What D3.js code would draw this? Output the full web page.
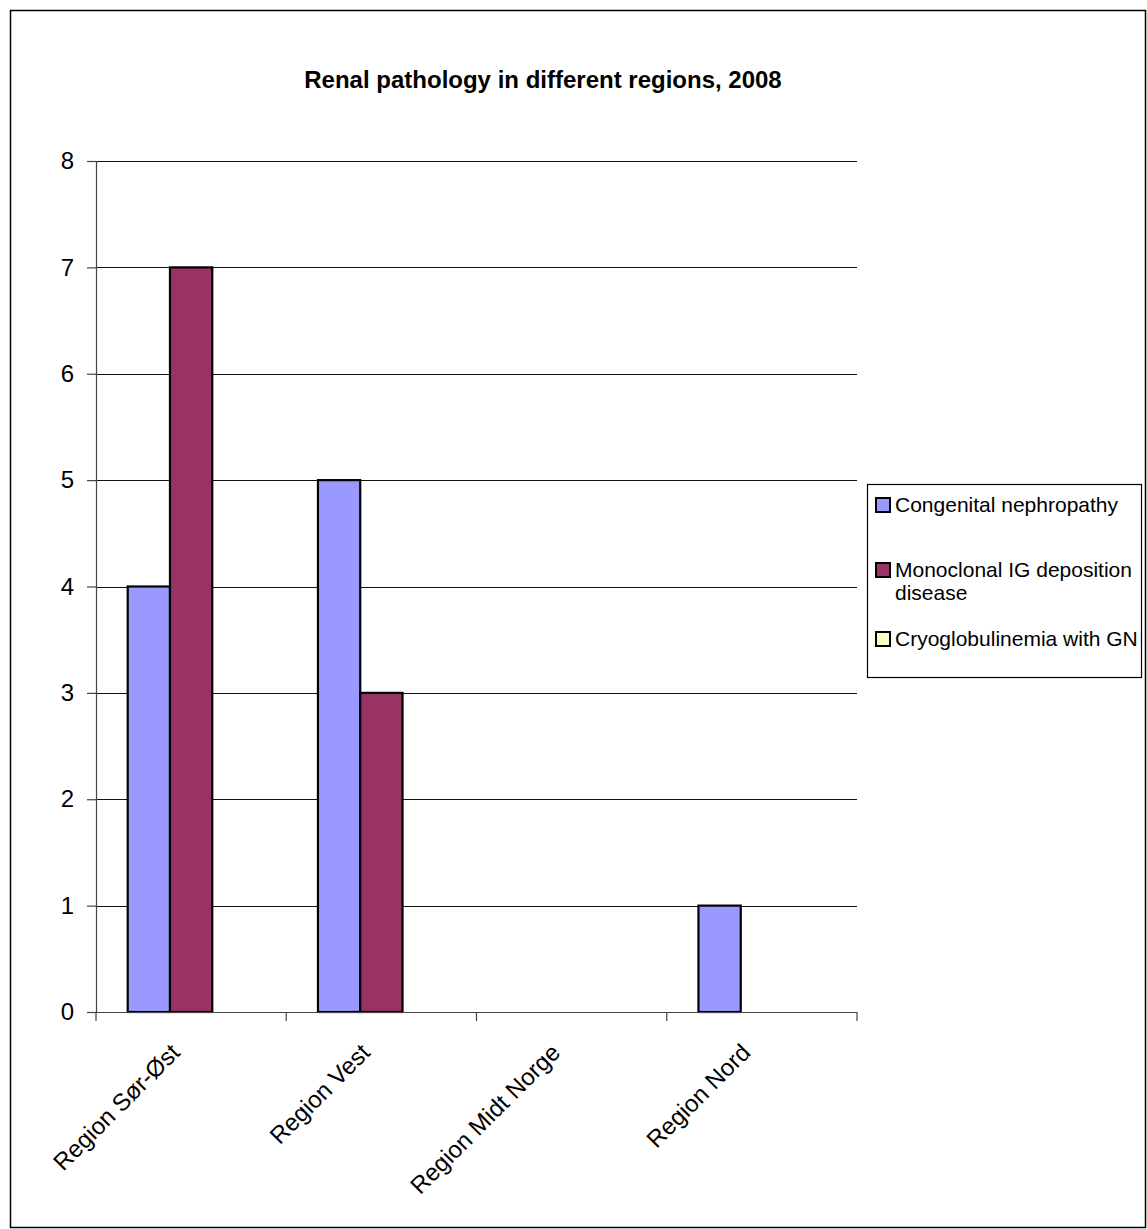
<!DOCTYPE html>
<html>
<head>
<meta charset="utf-8">
<script src="https://cdn.jsdelivr.net/npm/d3@7"></script>
<style>
  body { margin: 0; background: #fff; }
  text { font-family: Arial, "Liberation Sans", sans-serif; }
</style>
</head>
<body>
<div id="plot-container"></div>
<script>
// chart data
var categories = ["Region Sør-Øst", "Region Vest", "Region Midt Norge", "Region Nord"];
var seriesNames = ["Congenital nephropathy", "Monoclonal IG deposition disease", "Cryoglobulinemia with GN"];
var congenital = [4, 5, 0, 1];
var monoclonal = [7, 3, 0, 0];
var cryo = [0, 0, 0, 0];
var yTicks = [0, 1, 2, 3, 4, 5, 6, 7, 8];

var colors = ["#9999FF", "#993366", "#FFFFCC"];
var seriesValues = [congenital, monoclonal, cryo];

// plot parameters
var width = 1147, height = 1229;
var plotLeft = 96, plotRight = 857, plotTop = 161, plotBottom = 1012;

var svg = d3.select("#plot-container")
            .append("svg")
            .attr("width", width)
            .attr("height", height);

// outer frame
svg.append("rect")
   .attr("x", 10.5).attr("y", 10.5)
   .attr("width", 1135).attr("height", 1217)
   .attr("fill", "none").attr("stroke", "#000").attr("stroke-width", 1.5);

svg.append("text")
   .attr("x", 543).attr("y", 88)
   .attr("text-anchor", "middle")
   .attr("font-size", 24).attr("font-weight", "bold")
   .text("Renal pathology in different regions, 2008");

var yScale = d3.scaleLinear().domain([0, 8]).range([plotBottom, plotTop]);
var xScale = d3.scaleBand().domain(categories).range([plotLeft, plotRight]).paddingInner(0).paddingOuter(0);
var xSub = d3.scaleBand().domain(d3.range(seriesNames.length))
             .range([0, xScale.bandwidth()]).paddingInner(0).paddingOuter(0.75);

// gridlines
svg.append("g")
   .selectAll("line")
   .data(yTicks.filter(function(d){ return d > 0; }))
   .enter()
   .append("line")
   .attr("x1", plotLeft).attr("x2", plotRight)
   .attr("y1", function(d){ return Math.round(yScale(d)) + 0.5; })
   .attr("y2", function(d){ return Math.round(yScale(d)) + 0.5; })
   .attr("stroke", "#111").attr("stroke-width", 1.2);

// y axis
var yAxis = svg.append("g")
   .attr("transform", "translate(" + plotLeft + ",0)")
   .call(d3.axisLeft(yScale).tickValues(yTicks).tickSize(9).tickPadding(13).tickFormat(d3.format("d")));
yAxis.select(".domain").attr("stroke", "#444").attr("stroke-width", 1.2);
yAxis.selectAll(".tick line").attr("stroke", "#444").attr("stroke-width", 1.2);
yAxis.selectAll(".tick text").attr("font-size", 24).attr("fill", "#000")
     .attr("font-family", "Arial, 'Liberation Sans', sans-serif");

// bars
var groups = svg.append("g")
   .selectAll("g")
   .data(seriesValues)
   .enter()
   .append("g")
   .attr("fill", function(d, i){ return colors[i]; });

groups.each(function(vals, si){
  d3.select(this).selectAll("rect")
    .data(vals.map(function(v, ci){ return {v: v, c: categories[ci]}; }).filter(function(d){ return d.v > 0; }))
    .enter()
    .append("rect")
    .attr("x", function(d){ return xScale(d.c) + xSub(si); })
    .attr("width", xSub.bandwidth())
    .attr("y", function(d){ return yScale(d.v); })
    .attr("height", function(d){ return yScale(0) - yScale(d.v); })
    .attr("stroke", "#000").attr("stroke-width", 2.2);
});

// x axis
svg.append("line")
   .attr("x1", plotLeft).attr("x2", plotRight)
   .attr("y1", plotBottom + 0.5).attr("y2", plotBottom + 0.5)
   .attr("stroke", "#444").attr("stroke-width", 1.2);

var bounds = categories.map(function(c){ return xScale(c); }).concat([plotRight]);
svg.append("g")
   .selectAll("line")
   .data(bounds)
   .enter()
   .append("line")
   .attr("x1", function(d){ return d; }).attr("x2", function(d){ return d; })
   .attr("y1", plotBottom).attr("y2", plotBottom + 9)
   .attr("stroke", "#444").attr("stroke-width", 1.2);

svg.append("g")
   .selectAll("text")
   .data(categories)
   .enter()
   .append("text")
   .attr("transform", function(d){
      return "translate(" + (xScale(d) + xScale.bandwidth() / 2 - 10) + "," + (plotBottom + 42) + ") rotate(-45)";
   })
   .attr("text-anchor", "end")
   .attr("font-size", 24)
   .text(function(d){ return d; });

// legend
var legend = svg.append("g");
legend.append("rect")
   .attr("x", 867.5).attr("y", 484.5)
   .attr("width", 274).attr("height", 193)
   .attr("fill", "#fff").attr("stroke", "#000").attr("stroke-width", 1.2);

var legendLines = [["Congenital nephropathy"], ["Monoclonal IG deposition", "disease"], ["Cryoglobulinemia with GN"]];
var legendY = [512, 577, 646];

legendLines.forEach(function(lines, i){
  legend.append("rect")
     .attr("x", 876).attr("y", legendY[i] - 14)
     .attr("width", 14).attr("height", 14)
     .attr("fill", colors[i]).attr("stroke", "#000").attr("stroke-width", 2);
  var t = legend.append("text")
     .attr("x", 895).attr("y", legendY[i])
     .attr("font-size", 21);
  lines.forEach(function(l, j){
    t.append("tspan").attr("x", 895).attr("dy", j === 0 ? 0 : 23).text(l);
  });
});
</script>
</body>
</html>
